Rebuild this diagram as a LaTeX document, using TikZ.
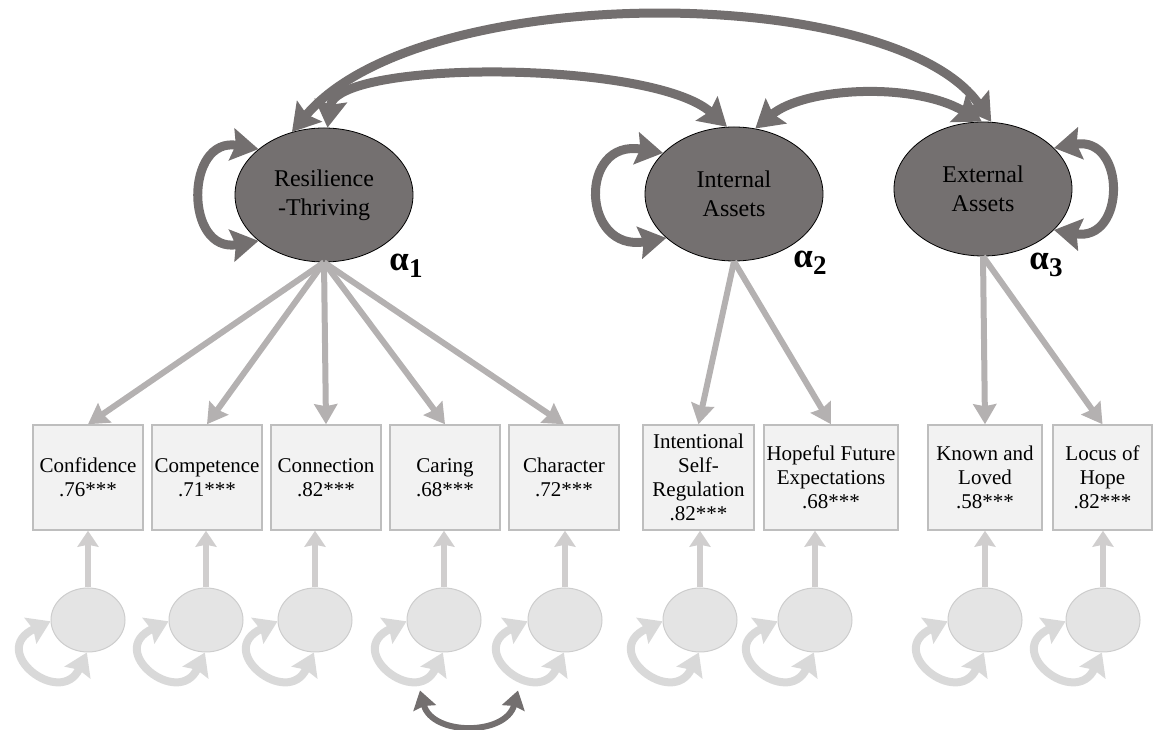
\documentclass[tikz,border=0pt]{standalone}
\usepackage{fontspec}
\setmainfont{Liberation Serif}
\usetikzlibrary{arrows.meta,shapes.geometric}
\definecolor{latfill}{RGB}{116,112,112}
\definecolor{darkarr}{RGB}{115,111,111}
\definecolor{lightarr}{RGB}{180,177,177}
\definecolor{errarr}{RGB}{208,206,206}
\definecolor{errloop}{RGB}{217,217,217}
\definecolor{errfill}{RGB}{228,228,228}
\definecolor{errline}{RGB}{205,205,205}
\definecolor{obsfill}{RGB}{242,242,242}
\definecolor{obsline}{RGB}{190,190,190}

\begin{document}
\begin{tikzpicture}[x=1pt,y=1pt,
  latent/.style={ellipse,draw=black,line width=0.8pt,fill=latfill,minimum width=178pt,minimum height=134pt,align=center,font=\fontsize{24}{29}\selectfont},
  indicator/.style={draw=obsline,fill=obsfill,line width=1.5pt,minimum height=105pt,inner sep=0pt,align=center,font=\fontsize{21}{24}\selectfont},
  resid/.style={ellipse,draw=errline,fill=errfill,line width=1pt,minimum width=74pt,minimum height=64pt},
  alphalab/.style={font=\fontsize{35}{35}\selectfont\bfseries},
  load/.style={draw=lightarr,line width=6pt,>={Stealth[length=20pt,width=23pt,inset=2pt]},->},
  resload/.style={draw=errarr,line width=6pt,>={Stealth[length=16pt,width=21pt,inset=2pt]},->},
  covar/.style={draw=darkarr,line width=9pt,>={Stealth[length=27pt,width=32pt,inset=4pt]},<->},
  resvar/.style={draw=errloop,line width=8pt,>={Stealth[length=22pt,width=28pt,inset=3pt]},<->},
  residcov/.style={draw=darkarr,line width=6pt,>={Stealth[length=18pt,width=23pt,inset=2pt]},<->}]
\useasboundingbox (0,0) rectangle (1153,730);

\node[latent] (res) at (324,535) {Resilience\\-Thriving};
\node[latent] (ia) at (734,536) {Internal\\Assets};
\node[latent] (ea) at (983,541) {External\\Assets};
\node[alphalab] (a1) at (406,464) {α\raisebox{-7pt}{\fontsize{27}{27}\selectfont 1}};
\node[alphalab] (a2) at (810,467) {α\raisebox{-7pt}{\fontsize{27}{27}\selectfont 2}};
\node[alphalab] (a3) at (1046,465) {α\raisebox{-7pt}{\fontsize{27}{27}\selectfont 3}};

\node[indicator,minimum width=110pt] (conf) at (88,252.5) {Confidence\\.76***};
\node[indicator,minimum width=110pt] (comp) at (207,252.5) {Competence\\.71***};
\node[indicator,minimum width=110pt] (conn) at (326,252.5) {Connection\\.82***};
\node[indicator,minimum width=110pt] (car) at (445,252.5) {Caring\\.68***};
\node[indicator,minimum width=110pt] (chr) at (564,252.5) {Character\\.72***};
\node[indicator,minimum width=111pt] (isr) at (698.5,252.5) {Intentional\\Self-\\Regulation\\.82***};
\node[indicator,minimum width=134pt] (hfe) at (831,252.5) {Hopeful Future\\Expectations\\.68***};
\node[indicator,minimum width=114pt] (kal) at (985,252.5) {Known and\\Loved\\.58***};
\node[indicator,minimum width=99pt] (loh) at (1102.5,252.5) {Locus of\\Hope\\.82***};

\node[resid] (e1) at (88,110) {};
\node[resid] (e2) at (206,110) {};
\node[resid] (e3) at (315,110) {};
\node[resid] (e4) at (444,110) {};
\node[resid] (e5) at (565,110) {};
\node[resid] (e6) at (700,110) {};
\node[resid] (e7) at (815,110) {};
\node[resid] (e8) at (985,110) {};
\node[resid] (e9) at (1103,110) {};

\draw[load] (res.south) -- (conf.north);
\draw[load] (res.south) -- (comp.north);
\draw[load] (res.south) -- (conn.north);
\draw[load] (res.south) -- (car.north);
\draw[load] (res.south) -- (chr.north);
\draw[load] (ia.south) -- (isr.north);
\draw[load] (ia.south) -- (hfe.north);
\draw[load] (ea.south) -- (kal.north);
\draw[load] (ea.south) -- (loh.north);

\draw[resload] (e1.north) -- (e1.north |- conf.south);
\draw[resload] (e2.north) -- (e2.north |- comp.south);
\draw[resload] (e3.north) -- (e3.north |- conn.south);
\draw[resload] (e4.north) -- (e4.north |- car.south);
\draw[resload] (e5.north) -- (e5.north |- chr.south);
\draw[resload] (e6.north) -- (e6.north |- isr.south);
\draw[resload] (e7.north) -- (e7.north |- hfe.south);
\draw[resload] (e8.north) -- (e8.north |- kal.south);
\draw[resload] (e9.north) -- (e9.north |- loh.south);

\draw[resvar] (e1.182) to[out=205,in=245,out distance=70pt,in distance=62pt] (e1.268);
\draw[resvar] (e2.182) to[out=205,in=245,out distance=70pt,in distance=62pt] (e2.268);
\draw[resvar] (e3.182) to[out=205,in=245,out distance=70pt,in distance=62pt] (e3.268);
\draw[resvar] (e4.182) to[out=205,in=245,out distance=70pt,in distance=62pt] (e4.268);
\draw[resvar] (e5.182) to[out=205,in=245,out distance=70pt,in distance=62pt] (e5.268);
\draw[resvar] (e6.182) to[out=205,in=245,out distance=70pt,in distance=62pt] (e6.268);
\draw[resvar] (e7.182) to[out=205,in=245,out distance=70pt,in distance=62pt] (e7.268);
\draw[resvar] (e8.182) to[out=205,in=245,out distance=70pt,in distance=62pt] (e8.268);
\draw[resvar] (e9.182) to[out=205,in=245,out distance=70pt,in distance=62pt] (e9.268);

\draw[covar] (res.117) to[out=50,in=125,out distance=200pt,in distance=170pt] (ea.83);
\draw[covar] (res.87) to[out=83,in=138,out distance=69pt,in distance=100pt] (ia.96);
\draw[covar] (ia.72) to[out=40,in=150,out distance=64pt,in distance=80pt] (ea.91);
\draw[covar] (res.145) to[out=170,in=190,looseness=2.1] (res.215);
\draw[covar] (ia.150) to[out=170,in=190,looseness=2.6] (ia.213);
\draw[covar] (ea.30) to[out=10,in=-10,looseness=2.3] (ea.-30);

\coordinate (cl) at ([xshift=-24pt,yshift=-38pt]e4.south);
\coordinate (cr) at ([xshift=-47pt,yshift=-38pt]e5.south);
\draw[residcov] (cl) to[out=-75,in=255,distance=47pt] (cr);
\end{tikzpicture}
\end{document}
